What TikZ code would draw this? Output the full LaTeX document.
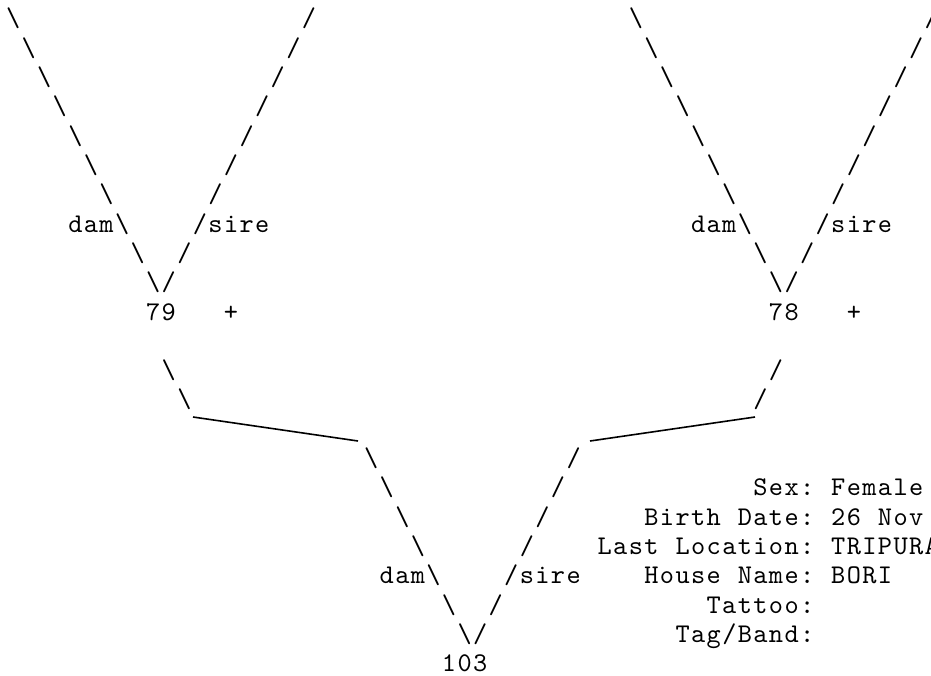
\documentclass[tikz,border=0pt]{standalone}
\usepackage{fontspec}
\newfontfamily\gridttfam{lmmono10-regular.otf}[LetterSpace=5.2]
\begin{document}
\begin{tikzpicture}[x=1pt,y=-1pt,
  declare function={cx(\c)=6+15.57*\c; ry(\r)=320+29.33*(\r-11);},
  gridtext/.style={anchor=base west,inner sep=0pt,outer sep=0pt,font=\gridttfam\fontsize{27}{29}\selectfont},
  joinline/.style={line width=1.6pt}]
\useasboundingbox[fill=white] (0,0) rectangle (931,675);
% ---- top-left tree (79)
\foreach \r in {1,...,7} \node[gridtext] (tlb\r) at ({cx(\r-1)},{ry(\r)}) {\textbackslash};
\node[gridtext] (tldam) at ({cx(4)},{ry(8)}) {dam\textbackslash};
\node[gridtext] (tlb9) at ({cx(8)},{ry(9)}) {\textbackslash};
\node[gridtext] (tlb10) at ({cx(9)},{ry(10)}) {\textbackslash};
\foreach \r in {1,...,7} \node[gridtext] (tls\r) at ({cx(20-\r)},{ry(\r)}) {/};
\node[gridtext] (tlsire) at ({cx(12)},{ry(8)}) {/sire};
\node[gridtext] (tls9) at ({cx(11)},{ry(9)}) {/};
\node[gridtext] (tls10) at ({cx(10)},{ry(10)}) {/};
\node[gridtext] (n79) at ({cx(9)},{ry(11)}) {79};
\node[gridtext] (plusA) at ({cx(14)},{ry(11)}) {+};
\node[gridtext] (tlc13) at ({cx(10)},{ry(13)}) {\textbackslash};
\node[gridtext] (tlc14) at ({cx(11)},{ry(14)}) {\textbackslash};
% ---- top-right tree (78)
\foreach \r in {1,...,7} \node[gridtext] (trb\r) at ({cx(39+\r)},{ry(\r)}) {\textbackslash};
\node[gridtext] (trdam) at ({cx(44)},{ry(8)}) {dam\textbackslash};
\node[gridtext] (trb9) at ({cx(48)},{ry(9)}) {\textbackslash};
\node[gridtext] (trb10) at ({cx(49)},{ry(10)}) {\textbackslash};
\foreach \r in {1,...,7} \node[gridtext] (trs\r) at ({cx(60-\r)},{ry(\r)}) {/};
\node[gridtext] (trsire) at ({cx(52)},{ry(8)}) {/sire};
\node[gridtext] (trs9) at ({cx(51)},{ry(9)}) {/};
\node[gridtext] (trs10) at ({cx(50)},{ry(10)}) {/};
\node[gridtext] (n78) at ({cx(49)},{ry(11)}) {78};
\node[gridtext] (plusB) at ({cx(54)},{ry(11)}) {+};
\node[gridtext] (trc13) at ({cx(49)},{ry(13)}) {/};
\node[gridtext] (trc14) at ({cx(48)},{ry(14)}) {/};
% ---- bottom tree (103)
\foreach \r in {16,...,19} \node[gridtext] (bb\r) at ({cx(\r+7)},{ry(\r)}) {\textbackslash};
\node[gridtext] (bdam) at ({cx(24)},{ry(20)}) {dam\textbackslash};
\node[gridtext] (bb21) at ({cx(28)},{ry(21)}) {\textbackslash};
\node[gridtext] (bv) at ({cx(29)},{ry(22)}) {\textbackslash/};
\node[gridtext] (n103) at ({cx(28)},{ry(23)}) {103};
\foreach \r in {16,...,19} \node[gridtext] (bs\r) at ({cx(52-\r)},{ry(\r)}) {/};
\node[gridtext] (bsire) at ({cx(32)},{ry(20)}) {/sire};
\node[gridtext] (bs21) at ({cx(31)},{ry(21)}) {/};
% ---- info block
\node[gridtext] (sexl) at ({cx(48)},{ry(17)}) {Sex:};
\node[gridtext] (sexv) at ({cx(53)},{ry(17)}) {Female};
\node[gridtext] (bdl1) at ({cx(41)},{ry(18)}) {Birth};
\node[gridtext] (bdl2) at ({cx(47)},{ry(18)}) {Date:};
\node[gridtext] (bdv1) at ({cx(53)},{ry(18)}) {26};
\node[gridtext] (bdv2) at ({cx(56)},{ry(18)}) {Nov};
\node[gridtext] (lll1) at ({cx(38)},{ry(19)}) {Last};
\node[gridtext] (lll2) at ({cx(43)},{ry(19)}) {Location:};
\node[gridtext] (llv) at ({cx(53)},{ry(19)}) {TRIPURA};
\node[gridtext] (hnl1) at ({cx(41)},{ry(20)}) {House};
\node[gridtext] (hnl2) at ({cx(47)},{ry(20)}) {Name:};
\node[gridtext] (hnv) at ({cx(53)},{ry(20)}) {BORI};
\node[gridtext] (tatl) at ({cx(45)},{ry(21)}) {Tattoo:};
\node[gridtext] (tagl) at ({cx(43)},{ry(22)}) {Tag/Band:};
% ---- joining lines
\coordinate (jl1) at (193,417);
\coordinate (jl2) at (358,441);
\coordinate (jr1) at (590,441);
\coordinate (jr2) at (755,417);
\draw[joinline] (jl1) -- (jl2);
\draw[joinline] (jr2) -- (jr1);
\end{tikzpicture}
\end{document}
